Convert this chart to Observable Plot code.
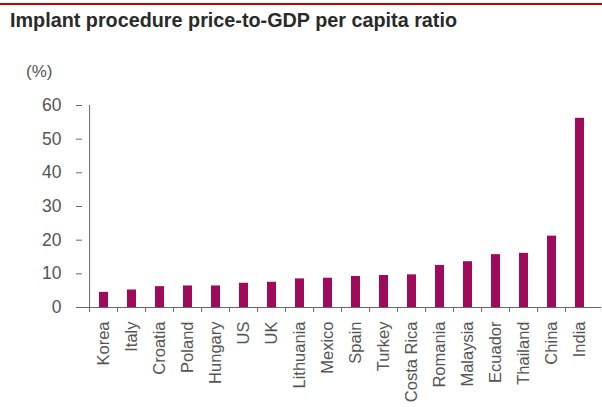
<!DOCTYPE html>
<html>
<head>
<meta charset="utf-8">
<script src="https://cdn.jsdelivr.net/npm/d3@7"></script>
<script src="https://cdn.jsdelivr.net/npm/@observablehq/plot@0.6"></script>
<style>
  body { margin: 0; background: #fff; font-family: "Liberation Sans", Arial, sans-serif; }
  #wrap { position: relative; width: 602px; height: 407px; overflow: hidden; background: #fff; }
  #redline { position: absolute; left: 0; top: 3px; width: 602px; height: 2px; background: #c00000; }
  #title { position: absolute; left: 10px; top: 9px; font-size: 19.8px; font-weight: bold; color: #2a2a2a; white-space: nowrap; }
  #unit { position: absolute; left: 26px; top: 62px; font-size: 17px; color: #555; }
  #chart { position: absolute; left: 0; top: 90px; }
</style>
</head>
<body>
<div id="wrap">
  <div id="redline"></div>
  <div id="title">Implant procedure price-to-GDP per capita ratio</div>
  <div id="unit">(%)</div>
  <div id="chart"></div>
</div>
<script>
const countries = ["Korea","Italy","Croatia","Poland","Hungary","US","UK","Lithuania","Mexico","Spain","Turkey","Costa Rica","Romania","Malaysia","Ecuador","Thailand","China","India"];
const ratios = [4.5,5.2,6.2,6.4,6.4,7.2,7.5,8.5,8.7,9.2,9.5,9.7,12.5,13.6,15.7,16.1,21.2,56.2];
const yTicks = [0,10,20,30,40,50,60];

const data = countries.map((c, i) => ({country: c, value: ratios[i]}));

const W = 602, H = 317, ML = 82, MR = 1;
const step = (W - ML - MR) / countries.length;

const plot = Plot.plot({
  width: W,
  height: H,
  marginLeft: ML,
  marginRight: MR,
  marginTop: 15,
  marginBottom: 100,
  style: {fontFamily: "'Liberation Sans', Arial, sans-serif", color: "#555", background: "#fff"},
  x: {domain: countries, paddingInner: 0.69, paddingOuter: 0.345, label: null},
  y: {domain: [0, 60], label: null},
  marks: [
    Plot.barY(data, {x: "country", y: "value", fill: "#a00a5a"}),
    Plot.axisY({ticks: yTicks, tickSize: 6, tickPadding: 15, fontSize: 17.5, stroke: "#666", fill: "#555"}),
    Plot.ruleX([countries[0]], {dx: -step / 2, y1: 0, y2: 60, stroke: "#666"}),
    Plot.ruleY([0], {stroke: "#666"}),
    Plot.axisX({tickSize: 5, dx: -step / 2, tickFormat: () => "", stroke: "#666"}),
    Plot.axisX({tickSize: 0, tickRotate: -90, tickPadding: 14, fontSize: 16.5, fill: "#555"})
  ]
});
document.getElementById("chart").appendChild(plot);
</script>
</body>
</html>
